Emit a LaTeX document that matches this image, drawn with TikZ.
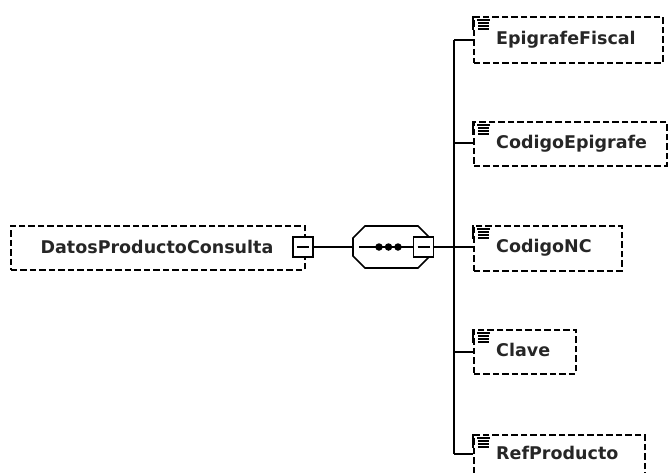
\documentclass[tikz,border=0pt]{standalone}
\usepackage{fontspec}
\setmainfont{DejaVu Sans}
\usetikzlibrary{calc}
\tikzset{
  lbl/.style={font=\fontsize{17.5}{20}\selectfont\bfseries, text=black!85, inner sep=0pt},
  dbox/.style={draw, dash pattern=on 6.5pt off 3pt, line width=1.6pt, inner sep=0pt, anchor=north west},
  sbox/.style={draw, line width=1.6pt, inner sep=0pt, minimum width=20pt, minimum height=20pt, fill=white},
  conn/.style={line width=1.6pt},
  dot/.style={circle, fill=black, inner sep=0pt, minimum size=7.5pt}
}
\begin{document}
\begin{tikzpicture}[x=1pt,y=-1pt]
\useasboundingbox (0,0) rectangle (668,472);
% main element
\node[dbox, minimum width=294pt, minimum height=44pt] (main) at (10,225) {};
\node[lbl] (maintext) at (157,247) {DatosProductoConsulta};
\node[sbox] (mminus) at (303,247) {};
\draw[conn] ($(mminus.center)+(-6,0)$) -- ($(mminus.center)+(6,0)$);
% sequence compositor
\coordinate (seqw) at (353,247);
\draw[conn, line join=miter] (353,238) -- (365,226) -- (418,226) -- (430,238) -- (430,256) -- (418,268) -- (365,268) -- (353,256) -- cycle;
\node[sbox] (sminus) at (423.5,247) {};
\draw[conn] ($(sminus.center)+(-6,0)$) -- ($(sminus.center)+(6,0)$);
\draw[conn] ($(seqw)+(6,0)$) -- (sminus.west);
\node[dot] (d1) at (379,247) {};
\node[dot] (d2) at (388.5,247) {};
\node[dot] (d3) at (398,247) {};
\draw[conn] (mminus.east) -- (seqw);
% children
\node[dbox, minimum width=189pt, minimum height=46pt] (c1) at (473,16) {};
\node[dbox, minimum width=193pt, minimum height=44pt] (c2) at (473,121) {};
\node[dbox, minimum width=148pt, minimum height=45pt] (c3) at (473,225) {};
\node[dbox, minimum width=102pt, minimum height=44pt] (c4) at (473,329) {};
\node[dbox, minimum width=171pt, minimum height=44pt] (c5) at (473,434) {};
\node[lbl, anchor=base west] at (496,44) {EpigrafeFiscal};
\node[lbl, anchor=base west] at (496,148) {CodigoEpigrafe};
\node[lbl, anchor=base west] at (496,252) {CodigoNC};
\node[lbl, anchor=base west] at (496,356) {Clave};
\node[lbl, anchor=base west] at (496,459) {RefProducto};
\foreach \c in {c1,c2,c3,c4,c5}{
  \draw[line width=1.6pt] (\c.north west) -- ++(0,14);
  \draw[line width=1.5pt] ($(\c.north west)+(4,4)$) -- ++(13,0);
  \foreach \k in {1,2,3}{
    \draw[line width=1.5pt] ($(\c.north west)+(5,4+3*\k)$) -- ++(11,0);
  }
}
% bus
\coordinate (bt) at (454,40);
\coordinate (bb) at (454,454);
\coordinate (bj) at (454,247);
\draw[conn] (sminus.east) -- (bj);
\draw[conn] (bt) -- (bb);
\draw[conn] (bt) -- (c1.west |- bt);
\draw[conn] (454,143) coordinate (b2) -- (c2.west |- b2);
\draw[conn] (bj) -- (c3.west |- bj);
\draw[conn] (454,352) coordinate (b4) -- (c4.west |- b4);
\draw[conn] (bb) -- (c5.west |- bb);
\end{tikzpicture}
\end{document}
